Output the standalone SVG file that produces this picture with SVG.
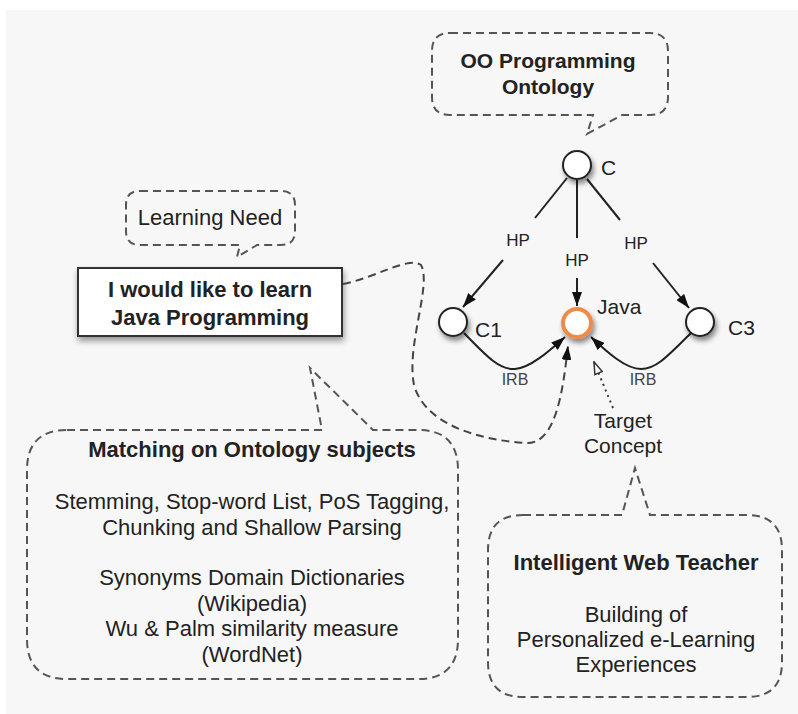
<svg xmlns="http://www.w3.org/2000/svg" width="798" height="714" viewBox="0 0 798 714">
<style>
text{font-family:"Liberation Sans",Arial,sans-serif;fill:#222}
.b{font-weight:bold}
.t22{font-size:22px}
.t21{font-size:21px}
.hp{font-size:17px}
.irb{font-size:16px;fill:#444}
.callout{fill:none;stroke:#555;stroke-width:2;stroke-dasharray:8 5}
.edge{fill:none;stroke:#222;stroke-width:2}
.node{fill:#fff;stroke:#222;stroke-width:2}
</style>
<defs>
<filter id="sh" x="-50%" y="-50%" width="200%" height="200%">
<feDropShadow dx="2" dy="4" stdDeviation="2.5" flood-color="#000" flood-opacity="0.45"/>
</filter>
<filter id="bsh" x="-10%" y="-20%" width="120%" height="150%">
<feDropShadow dx="1" dy="4" stdDeviation="3" flood-color="#000" flood-opacity="0.4"/>
</filter>
<marker id="arr" viewBox="0 0 14 10" refX="14" refY="5" markerWidth="14" markerHeight="10" orient="auto" markerUnits="userSpaceOnUse"><path d="M0,0 L14,5 L0,10 Z" fill="#111"/></marker>
<marker id="harr" viewBox="0 0 14 10" refX="13" refY="5" markerWidth="14" markerHeight="10" orient="auto" markerUnits="userSpaceOnUse"><path d="M1,1 L13,5 L1,9 Z" fill="#fff" stroke="#333" stroke-width="1.5"/></marker>
</defs>
<rect x="6" y="10" width="792" height="704" fill="#f7f7f7"/>

<g id="oo-callout">
<path class="callout" d="M450,33 H650 Q668,33 668,51 V97 Q668,115 650,115 H622 L587,134 L593,115 H450 Q432,115 432,97 V51 Q432,33 450,33 Z"/>
<text class="t21 b" x="548" y="68" text-anchor="middle">OO Programming</text>
<text class="t21 b" x="548" y="94" text-anchor="middle">Ontology</text>
</g>

<g id="learning-need">
<path class="callout" d="M140,191 H281 Q295,191 295,205 V231 Q295,245 281,245 H257 L237,257 L240,245 H140 Q126,245 126,231 V205 Q126,191 140,191 Z"/>
<text class="t22" x="210" y="225" text-anchor="middle">Learning Need</text>
</g>

<g id="request">
<rect x="78" y="268" width="264" height="68" fill="#fff" stroke="#333" stroke-width="2" filter="url(#bsh)"/>
<text class="t22 b" x="210" y="297" text-anchor="middle">I would like to learn</text>
<text class="t22 b" x="210" y="325" text-anchor="middle">Java Programming</text>
</g>

<g id="matching">
<path class="callout" d="M67,430 H322 L310,368 L373,430 H418 Q458,430 458,470 V639 Q458,679 418,679 H67 Q27,679 27,639 V470 Q27,430 67,430 Z"/>
<text class="t22 b" x="252" y="457" text-anchor="middle">Matching on Ontology subjects</text>
<text class="t22" x="252" y="509" text-anchor="middle">Stemming, Stop-word List, PoS Tagging,</text>
<text class="t22" x="252" y="535" text-anchor="middle">Chunking and Shallow Parsing</text>
<text class="t22" x="252" y="585" text-anchor="middle">Synonyms Domain Dictionaries</text>
<text class="t22" x="252" y="611" text-anchor="middle">(Wikipedia)</text>
<text class="t22" x="252" y="636" text-anchor="middle">Wu &amp; Palm similarity measure</text>
<text class="t22" x="252" y="662" text-anchor="middle">(WordNet)</text>
</g>

<g id="iwt">
<path class="callout" d="M523,515 H622 L635,468 L650,515 H747 Q782,515 782,550 V662 Q782,697 747,697 H523 Q488,697 488,662 V550 Q488,515 523,515 Z"/>
<text class="t22 b" x="636" y="570" text-anchor="middle">Intelligent Web Teacher</text>
<text class="t22" x="636" y="622" text-anchor="middle">Building of</text>
<text class="t22" x="636" y="647" text-anchor="middle">Personalized e-Learning</text>
<text class="t22" x="636" y="672" text-anchor="middle">Experiences</text>
</g>

<g id="connectors">
<line class="edge" x1="567" y1="178" x2="535" y2="218"/>
<line class="edge" x1="503" y1="260" x2="463" y2="307" marker-end="url(#arr)"/>
<line class="edge" x1="577" y1="180" x2="577" y2="238"/>
<line class="edge" x1="577" y1="278" x2="577" y2="306" marker-end="url(#arr)"/>
<line class="edge" x1="587" y1="179" x2="620" y2="220"/>
<line class="edge" x1="653" y1="263" x2="689" y2="308" marker-end="url(#arr)"/>
<path class="edge" d="M464,333 C488,358 500,370 515,369 C530,368 548,352 565,337" marker-end="url(#arr)"/>
<path class="edge" d="M691,333 C668,356 656,369 641,369 C626,369 608,353 591,337" marker-end="url(#arr)"/>
<line x1="613" y1="408" x2="594" y2="362" stroke="#333" stroke-width="2" stroke-dasharray="2 4" marker-end="url(#harr)"/>
<path fill="none" stroke="#444" stroke-width="2" stroke-dasharray="8 5" d="M343,284 C375,278 408,256 421,265 C432,285 406,345 414,385 C425,425 480,440 525,443 C556,446 563,390 568,346" marker-end="url(#arr)"/>
<text class="hp" x="518" y="246" text-anchor="middle">HP</text>
<text class="hp" x="577" y="266" text-anchor="middle">HP</text>
<text class="hp" x="636" y="249" text-anchor="middle">HP</text>
<text class="irb" x="515" y="385" text-anchor="middle">IRB</text>
<text class="irb" x="643" y="385" text-anchor="middle">IRB</text>
</g>

<g id="node-C">
<circle class="node" cx="577" cy="165" r="14" filter="url(#sh)"/>
<text class="t21" x="601" y="175">C</text>
</g>
<g id="node-C1">
<circle class="node" cx="453" cy="322" r="14" filter="url(#sh)"/>
<text class="t21" x="475" y="337">C1</text>
</g>
<g id="node-Java">
<circle cx="577" cy="323" r="14" fill="#fff" stroke="#ef8a48" stroke-width="4" filter="url(#sh)"/>
<text class="t21" x="597" y="314">Java</text>
</g>
<g id="node-C3">
<circle class="node" cx="700" cy="322" r="14" filter="url(#sh)"/>
<text class="t21" x="728" y="335">C3</text>
</g>
<g id="target">
<text class="t21" x="623" y="428" text-anchor="middle">Target</text>
<text class="t21" x="623" y="453" text-anchor="middle">Concept</text>
</g>
</svg>
